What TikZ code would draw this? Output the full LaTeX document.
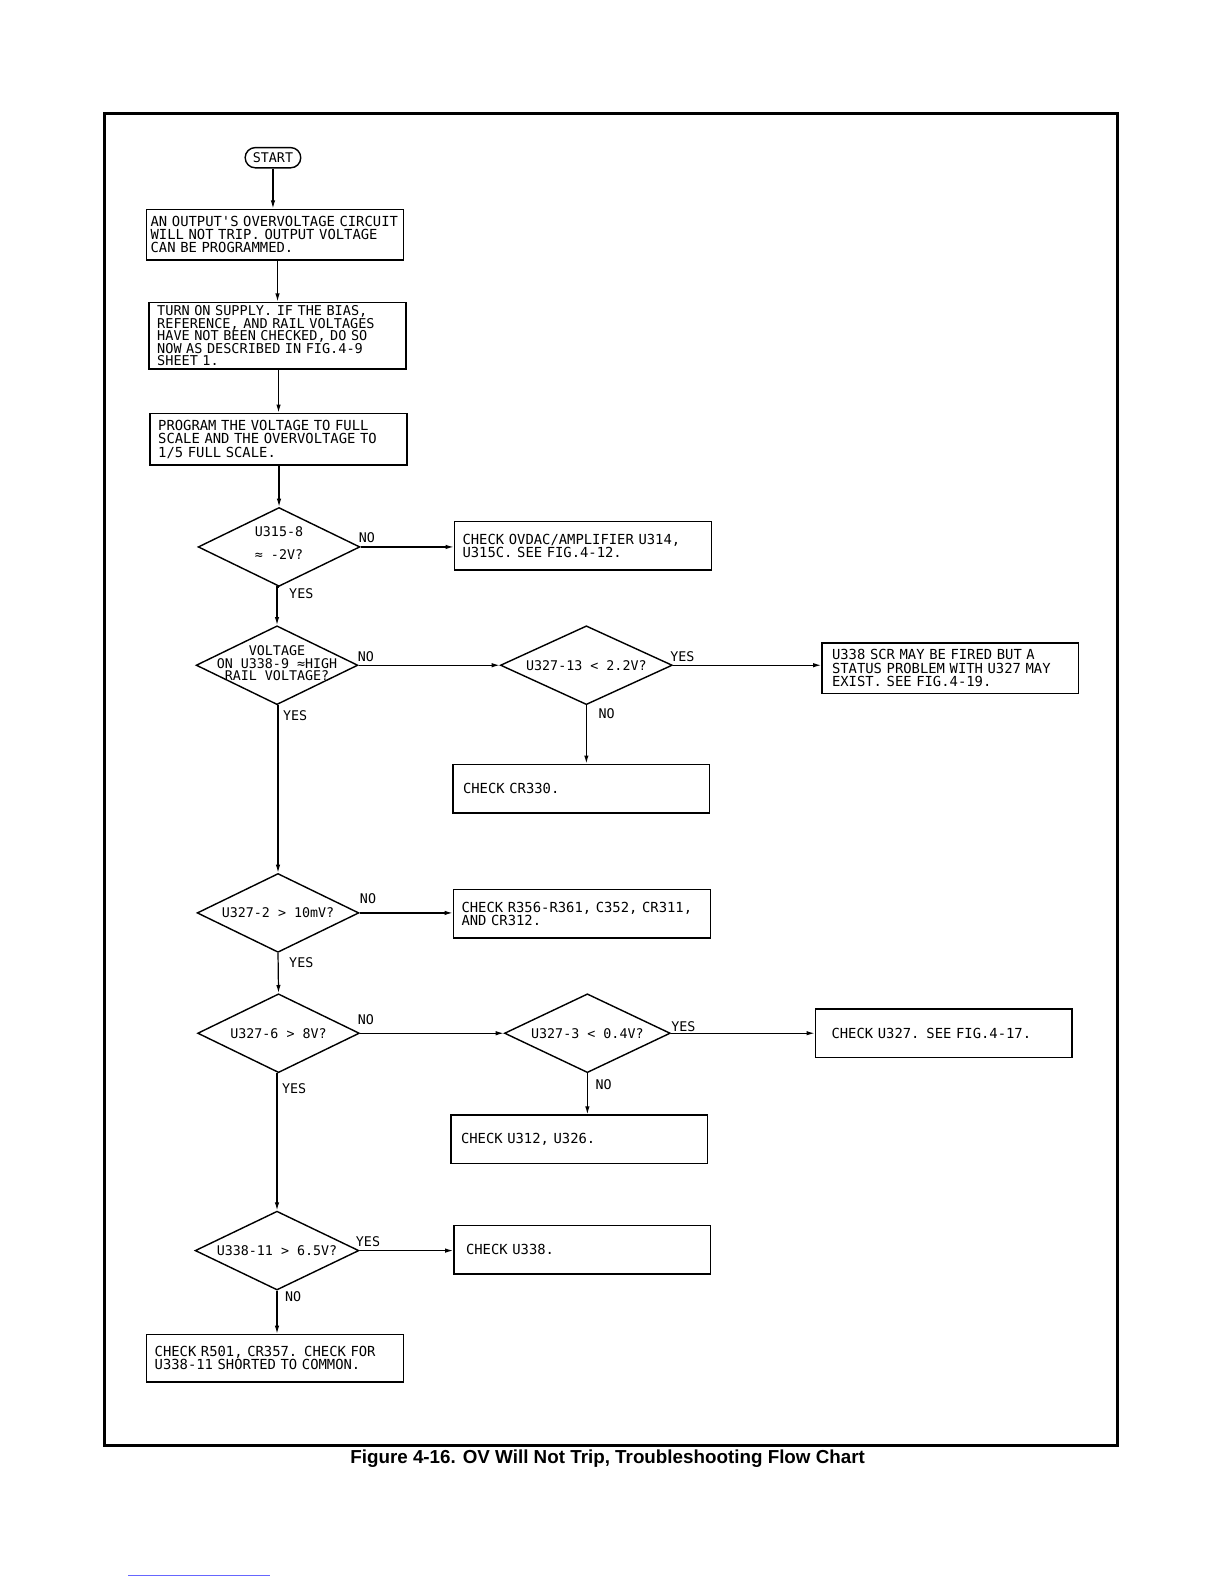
\documentclass[tikz,border=0pt]{standalone}
\usepackage{fontspec}
\usetikzlibrary{shapes.geometric,arrows.meta}
\newfontfamily\plotfont{DejaVu Sans Mono}
\newfontfamily\capfont{Liberation Sans}
\tikzset{>={Latex[length=4pt,width=2.2pt]}}
\tikzset{
  txt/.style={font=\plotfont\fontsize{6.85}{6.6}\selectfont},
  box/.style={txt,draw,line width=0.7pt,align=left,text width=119pt,
    inner xsep=4pt,minimum height=24pt},
  decision/.style={draw,diamond,line width=0.7pt,minimum width=80pt,
    minimum height=39pt,inner sep=0pt},
  dtext/.style={font=\plotfont\fontsize{6.6}{6.6}\selectfont,align=center,inner sep=0pt},
  answer/.style={dtext},
  flow/.style={->,line width=0.6pt}
}

\begin{document}
\begin{tikzpicture}[x=0.5pt,y=-0.5pt]

  % page and frame
  \useasboundingbox (0,0) rectangle (1210.7,1566.8);
  \draw[line width=1.4pt] (103,112) rectangle (1105,1430);

  % main column
  \node[dtext,draw,line width=0.7pt,rounded corners=5pt,minimum width=27.5pt,
    minimum height=10pt] (start) at (270,156) {START};
  \node[box,text width=123pt,inner xsep=2pt] (nottrip) at (272,232)
    {\mbox{AN OUTPUT'S OVERVOLTAGE CIRCUIT}\\WILL NOT TRIP. OUTPUT VOLTAGE\\CAN BE PROGRAMMED.};
  \node[box,font=\plotfont\fontsize{6.7}{6.15}\selectfont,inner ysep=1pt,
    minimum height=33pt] (turnon) at (274.5,332)
    {TURN ON SUPPLY. IF THE BIAS,\\REFERENCE, AND RAIL VOLTAGES\\HAVE NOT BEEN CHECKED, DO SO\\NOW AS DESCRIBED IN FIG.4-9\\SHEET 1.};
  \node[box,minimum height=24.5pt] (program) at (275.5,434.5)
    {PROGRAM THE VOLTAGE TO FULL\\SCALE AND THE OVERVOLTAGE TO\\1/5 FULL SCALE.};

  % decisions
  \node[decision,label={[dtext,yshift=2pt]center:{U315-8\\[4.5pt]≈ -2V?}}] (qU315) at (276,541) {};
  \node[decision,label={[dtext,yshift=1pt]center:{VOLTAGE\\[-0.6pt]ON U338-9 ≈HIGH\\[-0.6pt]RAIL VOLTAGE?}}] (qrail) at (274,658) {};
  \node[decision,minimum width=85pt,label={[dtext]center:{U327-13 < 2.2V?}}] (qU327a) at (580,658) {};
  \node[decision,label={[dtext]center:{U327-2 > 10mV?}}] (qU327b) at (275,903) {};
  \node[decision,label={[dtext]center:{U327-6 > 8V?}}] (qU327c) at (275.5,1022) {};
  \node[decision,minimum width=82pt,label={[dtext]center:{U327-3 < 0.4V?}}] (qU327d) at (581,1022) {};
  \node[decision,minimum width=81pt,label={[dtext]center:{U338-11 > 6.5V?}}] (qU338) at (274,1237) {};

  % actions
  \node[box] (chkovdac) at (576.5,540)
    {CHECK OVDAC/AMPLIFIER U314,\\U315C. SEE FIG.4-12.};
  \node[box,inner xsep=5pt,text width=117pt] (status) at (940,661)
    {U338 SCR MAY BE FIRED BUT A\\STATUS PROBLEM WITH U327 MAY\\EXIST. SEE FIG.4-19.};
  \node[box,inner xsep=5pt,text width=117pt] (chkcr) at (575,780) {CHECK CR330.};
  \node[box] (chkr) at (575.5,904)
    {CHECK R356-R361, C352, CR311,\\AND CR312.};
  \node[box,inner xsep=8pt,text width=111pt] (chku327) at (933.5,1022)
    {CHECK U327. SEE FIG.4-17.};
  \node[box,inner xsep=5pt,text width=117pt] (chku312) at (573,1127) {CHECK U312, U326.};
  \node[box,inner xsep=6pt,text width=115pt] (chku338) at (576,1236) {CHECK U338.};
  \node[box,minimum height=23.5pt] (chkr501) at (272,1343.5)
    {CHECK R501, CR357. CHECK FOR\\U338-11 SHORTED TO COMMON.};

  % connectors
  \draw[flow] (start) -- (start |- nottrip.north);
  \draw[flow] (nottrip.south -| turnon) -- (turnon.north);
  \draw[flow] (turnon.south -| program) -- (program.north);
  \draw[flow] (program.south -| qU315) -- (qU315.north);
  \draw[flow] (qU315.east) -- (qU315.east -| chkovdac.west);
  \draw[flow] (qU315.south) -- (qU315.south -| qrail) -- (qrail.north);
  \draw[flow] (qrail.east) -- (qU327a.west);
  \draw[flow] (qU327a.east) -- (qU327a.east -| status.west);
  \draw[flow] (qU327a.south) -- (qU327a.south |- chkcr.north);
  \draw[flow] (qrail.south -| qU327b) -- (qU327b.north);
  \draw[flow] (qU327b.east) -- (qU327b.east -| chkr.west);
  \draw[flow] (qU327b.south) -- (qU327c.north);
  \draw[flow] (qU327c.east) -- (qU327d.west);
  \draw[flow] (qU327d.east) -- (qU327d.east -| chku327.west);
  \draw[flow] (qU327d.south) -- (qU327d.south |- chku312.north);
  \draw[flow] (qU327c.south -| qU338) -- (qU338.north);
  \draw[flow] (qU338.east) -- (qU338.east -| chku338.west);
  \draw[flow] (qU338.south) -- (qU338.south |- chkr501.north);

  % answers
  \node[answer] (aU315no) at (363,532) {NO};
  \node[answer] (aU315yes) at (298,587) {YES};
  \node[answer] (arailno) at (362,650) {NO};
  \node[answer] (arailyes) at (292,708) {YES};
  \node[answer] (aU327ayes) at (675,650) {YES};
  \node[answer] (aU327ano) at (600,706) {NO};
  \node[answer] (aU327bno) at (364,889) {NO};
  \node[answer] (aU327byes) at (298,952) {YES};
  \node[answer] (aU327cno) at (362,1009) {NO};
  \node[answer] (aU327cyes) at (291,1077) {YES};
  \node[answer] (aU327dyes) at (676,1015) {YES};
  \node[answer] (aU327dno) at (597,1073) {NO};
  \node[answer] (aU338yes) at (364,1228) {YES};
  \node[answer] (aU338no) at (290,1283) {NO};

  % caption
  \node[font=\capfont\bfseries\fontsize{9.3}{11}\selectfont,inner sep=0pt] (caption)
    at (601,1443) {Figure 4-16. OV Will Not Trip, Troubleshooting Flow Chart};
  \draw[blue!60,line width=0.4pt] (127,1558) -- (267,1558);

\end{tikzpicture}
\end{document}
